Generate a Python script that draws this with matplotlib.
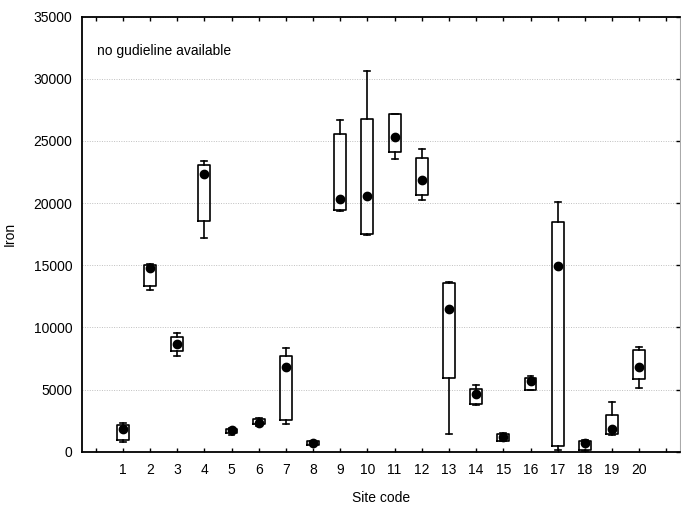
import matplotlib
matplotlib.use('Agg')
import matplotlib.pyplot as plt

plt.rcParams['font.family'] = ['Liberation Sans', 'DejaVu Sans']

# values (Iron per site)
sites = list(range(1, 21))
medians = [1800, 14750, 8690, 22370, 1770, 2330, 6790, 720, 20300, 20570,
           25290, 21860, 11510, 4640, 1180, 5690, 14970, 670, 1800, 6810]
q1 = [940, 13360, 8130, 18560, 1530, 2200, 2550, 560, 19450, 17510,
      24080, 20630, 5900, 3810, 890, 4990, 480, 130, 1400, 5850]
q3 = [2150, 15050, 9250, 23040, 1850, 2660, 7720, 830, 25530, 26770,
      27140, 23660, 13570, 5020, 1450, 5930, 18450, 830, 2920, 8180]
mins = [780, 13040, 7720, 17170, 1340, 2090, 2230, 510, 19390, 17460,
        23550, 20250, 1450, 3730, 830, 4960, 130, 30, 1340, 5120]
maxs = [2280, 15100, 9580, 23360, 1930, 2740, 8370, 890, 26660, 30660,
        27170, 24380, 13650, 5340, 1530, 6060, 20060, 940, 4000, 8400]

stats = []
for i in range(len(sites)):
    stats.append({'med': medians[i], 'q1': q1[i], 'q3': q3[i],
                  'whislo': mins[i], 'whishi': maxs[i], 'fliers': []})

fig = plt.figure(figsize=(6.81, 5.05), dpi=100)
ax = fig.add_axes([82 / 681, 1 - 451.7 / 505, (680 - 82) / 681, (451.7 - 16.7) / 505])

lineprops = dict(color='black', linewidth=1.2)
ax.bxp(stats, positions=sites, widths=0.44, capwidths=0.22, showfliers=False,
       boxprops=lineprops, whiskerprops=lineprops, capprops=lineprops,
       medianprops=dict(linewidth=0))
ax.plot(sites, medians, 'o', color='black', markersize=6, zorder=5)

ax.set_xlim(-0.5, 21.5)
ax.set_ylim(0, 35000)
ax.set_xticks(range(0, 22))
ax.set_xticklabels([''] + [str(s) for s in sites] + [''])
ax.set_yticks(range(0, 35001, 5000))

ax.yaxis.grid(True, linestyle=(0, (1, 1.5)), color='#c0c0c0', linewidth=0.7)
ax.set_axisbelow(True)

ax.tick_params(axis='x', direction='in', top=True, length=3, width=1, labelsize=10, pad=8)
ax.tick_params(axis='y', direction='in', left=False, right=True, length=3, width=1,
               labelsize=10, pad=7)

for s in ['left', 'bottom', 'top']:
    ax.spines[s].set_linewidth(1.3)
ax.spines['right'].set_color('#aaaaaa')
ax.spines['right'].set_linewidth(0.8)

ax.text(0.05, 32200, 'no gudieline available', fontsize=10, va='center')

ax.set_xlabel('Site code', fontsize=10, labelpad=10)
ax.set_ylabel('Iron', fontsize=10, labelpad=12)

fig.savefig('out.png', dpi=100)
